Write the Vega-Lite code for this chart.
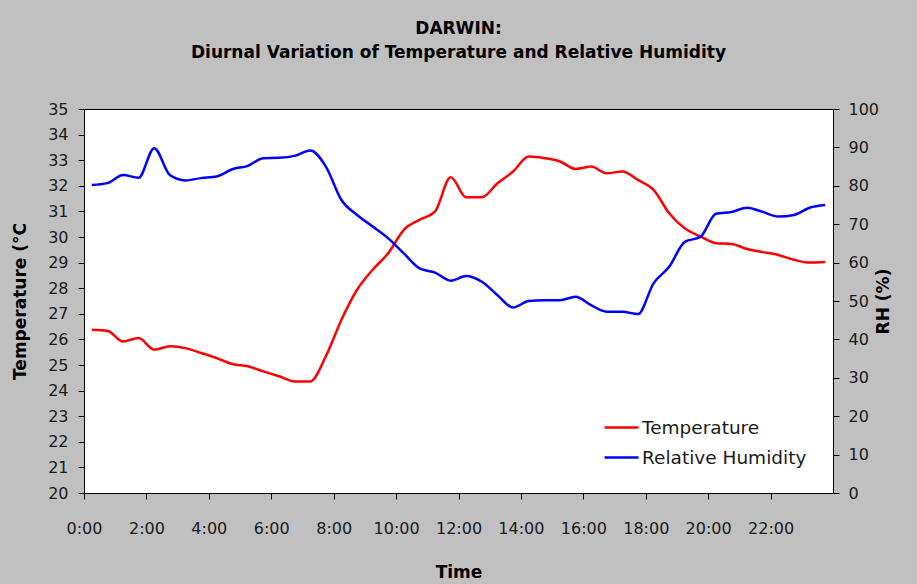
{
  "$schema": "https://vega.github.io/schema/vega-lite/v6.json",
  "width": 749,
  "height": 384,
  "autosize": "none",
  "padding": {"left": 84, "top": 109, "right": 84, "bottom": 91},
  "background": "#C0C0C0",
  "title": {
    "text": ["DARWIN:", "Diurnal Variation of Temperature and Relative Humidity"],
    "font": "DejaVu Sans",
    "fontSize": 17,
    "fontWeight": "bold",
    "color": "#000000",
    "lineHeight": 24,
    "offset": 39,
    "anchor": "middle"
  },
  "config": {
    "view": {"fill": "#FFFFFF", "stroke": "#000000", "strokeWidth": 1},
    "axis": {
      "grid": false,
      "domainColor": "#000000",
      "tickColor": "#000000",
      "tickSize": 6,
      "labelFont": "DejaVu Sans",
      "labelFontSize": 16,
      "labelColor": "#1a1a1a",
      "titleFont": "DejaVu Sans",
      "titleFontSize": 17,
      "titleFontWeight": "bold",
      "titleColor": "#000000"
    }
  },
  "data": {
    "values": [
      {"t": 0, "temp": 26.38, "rh": 80.2},
      {"t": 0.5, "temp": 26.34, "rh": 80.7},
      {"t": 1, "temp": 25.92, "rh": 82.8},
      {"t": 1.5, "temp": 26.05, "rh": 82.1},
      {"t": 2, "temp": 25.6, "rh": 89.8},
      {"t": 2.5, "temp": 25.73, "rh": 82.8},
      {"t": 3, "temp": 25.66, "rh": 81.4},
      {"t": 3.5, "temp": 25.47, "rh": 82.0},
      {"t": 4, "temp": 25.27, "rh": 82.4},
      {"t": 4.5, "temp": 25.04, "rh": 84.3},
      {"t": 5, "temp": 24.95, "rh": 85.2},
      {"t": 5.5, "temp": 24.75, "rh": 87.2},
      {"t": 6, "temp": 24.56, "rh": 87.3},
      {"t": 6.5, "temp": 24.36, "rh": 87.8},
      {"t": 7, "temp": 24.36, "rh": 89.2},
      {"t": 7.5, "temp": 25.34, "rh": 85.0},
      {"t": 8, "temp": 26.77, "rh": 76.3},
      {"t": 8.5, "temp": 27.94, "rh": 72.4},
      {"t": 9, "temp": 28.72, "rh": 69.4},
      {"t": 9.5, "temp": 29.37, "rh": 66.3},
      {"t": 10, "temp": 30.28, "rh": 62.4},
      {"t": 10.5, "temp": 30.67, "rh": 58.5},
      {"t": 11, "temp": 31.0, "rh": 57.4},
      {"t": 11.5, "temp": 32.33, "rh": 55.3},
      {"t": 12, "temp": 31.55, "rh": 56.5},
      {"t": 12.5, "temp": 31.55, "rh": 55.0},
      {"t": 13, "temp": 32.1, "rh": 51.5},
      {"t": 13.5, "temp": 32.56, "rh": 48.3},
      {"t": 14, "temp": 33.14, "rh": 50.0},
      {"t": 14.5, "temp": 33.08, "rh": 50.2},
      {"t": 15, "temp": 32.95, "rh": 50.2},
      {"t": 15.5, "temp": 32.66, "rh": 51.1},
      {"t": 16, "temp": 32.75, "rh": 48.9},
      {"t": 16.5, "temp": 32.49, "rh": 47.2},
      {"t": 17, "temp": 32.56, "rh": 47.2},
      {"t": 17.5, "temp": 32.23, "rh": 46.6},
      {"t": 18, "temp": 31.84, "rh": 54.6},
      {"t": 18.5, "temp": 30.93, "rh": 58.9},
      {"t": 19, "temp": 30.34, "rh": 65.4},
      {"t": 19.5, "temp": 30.02, "rh": 66.7},
      {"t": 20, "temp": 29.76, "rh": 72.7},
      {"t": 20.5, "temp": 29.73, "rh": 73.2},
      {"t": 21, "temp": 29.53, "rh": 74.3},
      {"t": 21.5, "temp": 29.41, "rh": 73.2},
      {"t": 22, "temp": 29.3, "rh": 72.0},
      {"t": 22.5, "temp": 29.11, "rh": 72.4},
      {"t": 23, "temp": 29.0, "rh": 74.3},
      {"t": 23.5, "temp": 29.02, "rh": 75.0}
    ]
  },
  "encoding": {
    "x": {
      "field": "t",
      "type": "quantitative",
      "scale": {"domain": [-0.25, 23.75], "nice": false, "zero": false},
      "axis": {
        "title": "Time",
        "values": [0, 2, 4, 6, 8, 10, 12, 14, 16, 18, 20, 22],
        "labelExpr": "datum.value + ':00'",
        "tickOffset": -7.8,
        "labelPadding": 21,
        "titlePadding": 28,
        "labelFlush": false,
        "labelOverlap": false
      }
    }
  },
  "layer": [
    {
      "mark": {"type": "line", "strokeWidth": 2.5, "interpolate": "monotone"},
      "encoding": {
        "y": {
          "field": "temp",
          "type": "quantitative",
          "scale": {"domain": [20, 35], "nice": false, "zero": false},
          "axis": {
            "title": "Temperature (°C",
            "orient": "left",
            "values": [20, 21, 22, 23, 24, 25, 26, 27, 28, 29, 30, 31, 32, 33, 34, 35],
            "labelPadding": 10,
            "titlePadding": 18,
            "labelOverlap": false,
            "labelFlush": false
          }
        },
        "color": {
          "datum": "Temperature",
          "type": "nominal",
          "scale": {"domain": ["Temperature", "Relative Humidity"], "range": ["#FF0000", "#0000FF"]},
          "legend": {
            "title": null,
            "orient": "bottom-right",
            "offset": 26,
            "padding": 0,
            "symbolType": "stroke",
            "symbolSize": 1156,
            "symbolStrokeWidth": 2.5,
            "labelFont": "DejaVu Sans",
            "labelFontSize": 18.5,
            "labelLimit": 400,
            "labelColor": "#1a1a1a",
            "labelOffset": 2,
            "rowPadding": 2
          }
        }
      }
    },
    {
      "mark": {"type": "line", "strokeWidth": 2.5, "interpolate": "monotone"},
      "encoding": {
        "y": {
          "field": "rh",
          "type": "quantitative",
          "scale": {"domain": [0, 100], "nice": false},
          "axis": {
            "title": "RH (%)",
            "orient": "right",
            "values": [0, 10, 20, 30, 40, 50, 60, 70, 80, 90, 100],
            "labelPadding": 9,
            "titlePadding": 14,
            "titleAngle": 270,
            "labelOverlap": false,
            "labelFlush": false
          }
        },
        "color": {"datum": "Relative Humidity", "type": "nominal"}
      }
    }
  ],
  "resolve": {"scale": {"y": "independent"}}
}
